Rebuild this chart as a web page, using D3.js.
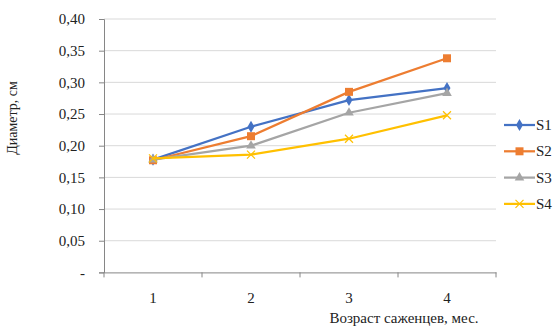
<!DOCTYPE html>
<html><head><meta charset="utf-8">
<script src="https://cdn.jsdelivr.net/npm/d3@7"></script>
<style>body{margin:0;background:#fff}svg{display:block}</style>
</head><body>
<svg id="c" width="558" height="329"></svg>
<script>
const categories = ["1","2","3","4"];
const yTicks = [0,0.05,0.10,0.15,0.20,0.25,0.30,0.35,0.40];
const seriesNames = ["S1","S2","S3","S4"];
const S1 = [0.178,0.230,0.272,0.291];
const S2 = [0.177,0.215,0.285,0.338];
const S3 = [0.178,0.200,0.252,0.283];
const S4 = [0.180,0.186,0.211,0.248];
const colors = ["#4472C4","#ED7D31","#A5A5A5","#FFC000"];
const markers = ["diamond","square","triangle","x"];
const values = [S1,S2,S3,S4];
const FONT = "'Liberation Serif', 'DejaVu Serif', 'Times New Roman', serif";

const svg = d3.select("#c").attr("font-family", FONT);
const m = {l:104, r:496, t:19, b:272.4};
const x = d3.scaleBand().domain(categories).range([m.l,m.r]);
const y = d3.scaleLinear().domain([0,0.40]).range([m.b,m.t]);

svg.append("g").selectAll("line").data(yTicks.filter(d=>d>0)).join("line")
  .attr("x1",m.l).attr("x2",m.r).attr("y1",d=>y(d)).attr("y2",d=>y(d))
  .attr("stroke","#d9d9d9").attr("stroke-width",1);

const yAxis = d3.axisLeft(y).tickValues(yTicks).tickSize(5).tickPadding(14)
  .tickFormat(d=> d===0 ? "-" : d3.format(".2f")(d).replace(".",","));
const gy = svg.append("g").attr("transform",`translate(${m.l},0)`).call(yAxis).attr("font-family", FONT);
gy.select(".domain").attr("stroke","#868686");
gy.selectAll(".tick line").attr("stroke","#868686");
gy.selectAll("text").style("font-size","15px").style("font-family",FONT).attr("fill","#222");

const xAxis = d3.axisBottom(x).tickSizeOuter(0).tickSize(0).tickPadding(20);
const gx = svg.append("g").attr("transform",`translate(0,${m.b})`).call(xAxis).attr("font-family", FONT);
gx.select(".domain").attr("stroke","#868686");
gx.selectAll("text").style("font-size","15px").style("font-family",FONT).attr("fill","#222");
const bounds = categories.map(c=>x(c)).concat([m.r]);
gx.append("g").selectAll("line").data(bounds).join("line")
  .attr("x1",d=>d).attr("x2",d=>d).attr("y1",0).attr("y2",5).attr("stroke","#868686");

const line = d3.line().x((d,i)=>x(categories[i])+x.bandwidth()/2).y(d=>y(d));
const sym = {diamond:d3.symbolDiamond, square:d3.symbolSquare, triangle:d3.symbolTriangle};
function drawMarker(g, type, color, cx, cy){
  if(type==="x"){
    const s=4;
    g.append("path").attr("d",`M${cx-s},${cy-s}L${cx+s},${cy+s}M${cx-s},${cy+s}L${cx+s},${cy-s}`)
      .attr("stroke",color).attr("stroke-width",1.2).attr("fill","none");
  } else {
    const size = type==="square"?64:(type==="diamond"?42:40);
    g.append("path").attr("d",d3.symbol().type(sym[type]).size(size)())
      .attr("transform",`translate(${cx},${cy})`).attr("fill",color);
  }
}
values.forEach((vals,si)=>{
  const g = svg.append("g");
  g.append("path").datum(vals).attr("d",line).attr("fill","none")
    .attr("stroke",colors[si]).attr("stroke-width",2.25).attr("stroke-linejoin","round");
  vals.forEach((v,i)=>drawMarker(g, markers[si], colors[si], x(categories[i])+x.bandwidth()/2, y(v)));
});

const lg = svg.append("g");
seriesNames.forEach((n,i)=>{
  const yy = 125 + i*26.3;
  lg.append("line").attr("x1",504).attr("x2",535).attr("y1",yy).attr("y2",yy)
    .attr("stroke",colors[i]).attr("stroke-width",2.25);
  drawMarker(lg, markers[i], colors[i], 519.5, yy);
  lg.append("text").attr("x",536).attr("y",yy+5).style("font-size","15px").style("font-family",FONT).attr("fill","#222").text(n);
});

svg.append("text").attr("transform","translate(17,118) rotate(-90)").attr("text-anchor","middle")
  .style("font-size","14px").style("font-family",FONT).attr("fill","#222").text("Диаметр, см");
svg.append("text").attr("x",404).attr("y",323).attr("text-anchor","middle")
  .style("font-size","15px").style("font-family",FONT).attr("fill","#222").text("Возраст саженцев, мес.");
</script>
</body></html>
